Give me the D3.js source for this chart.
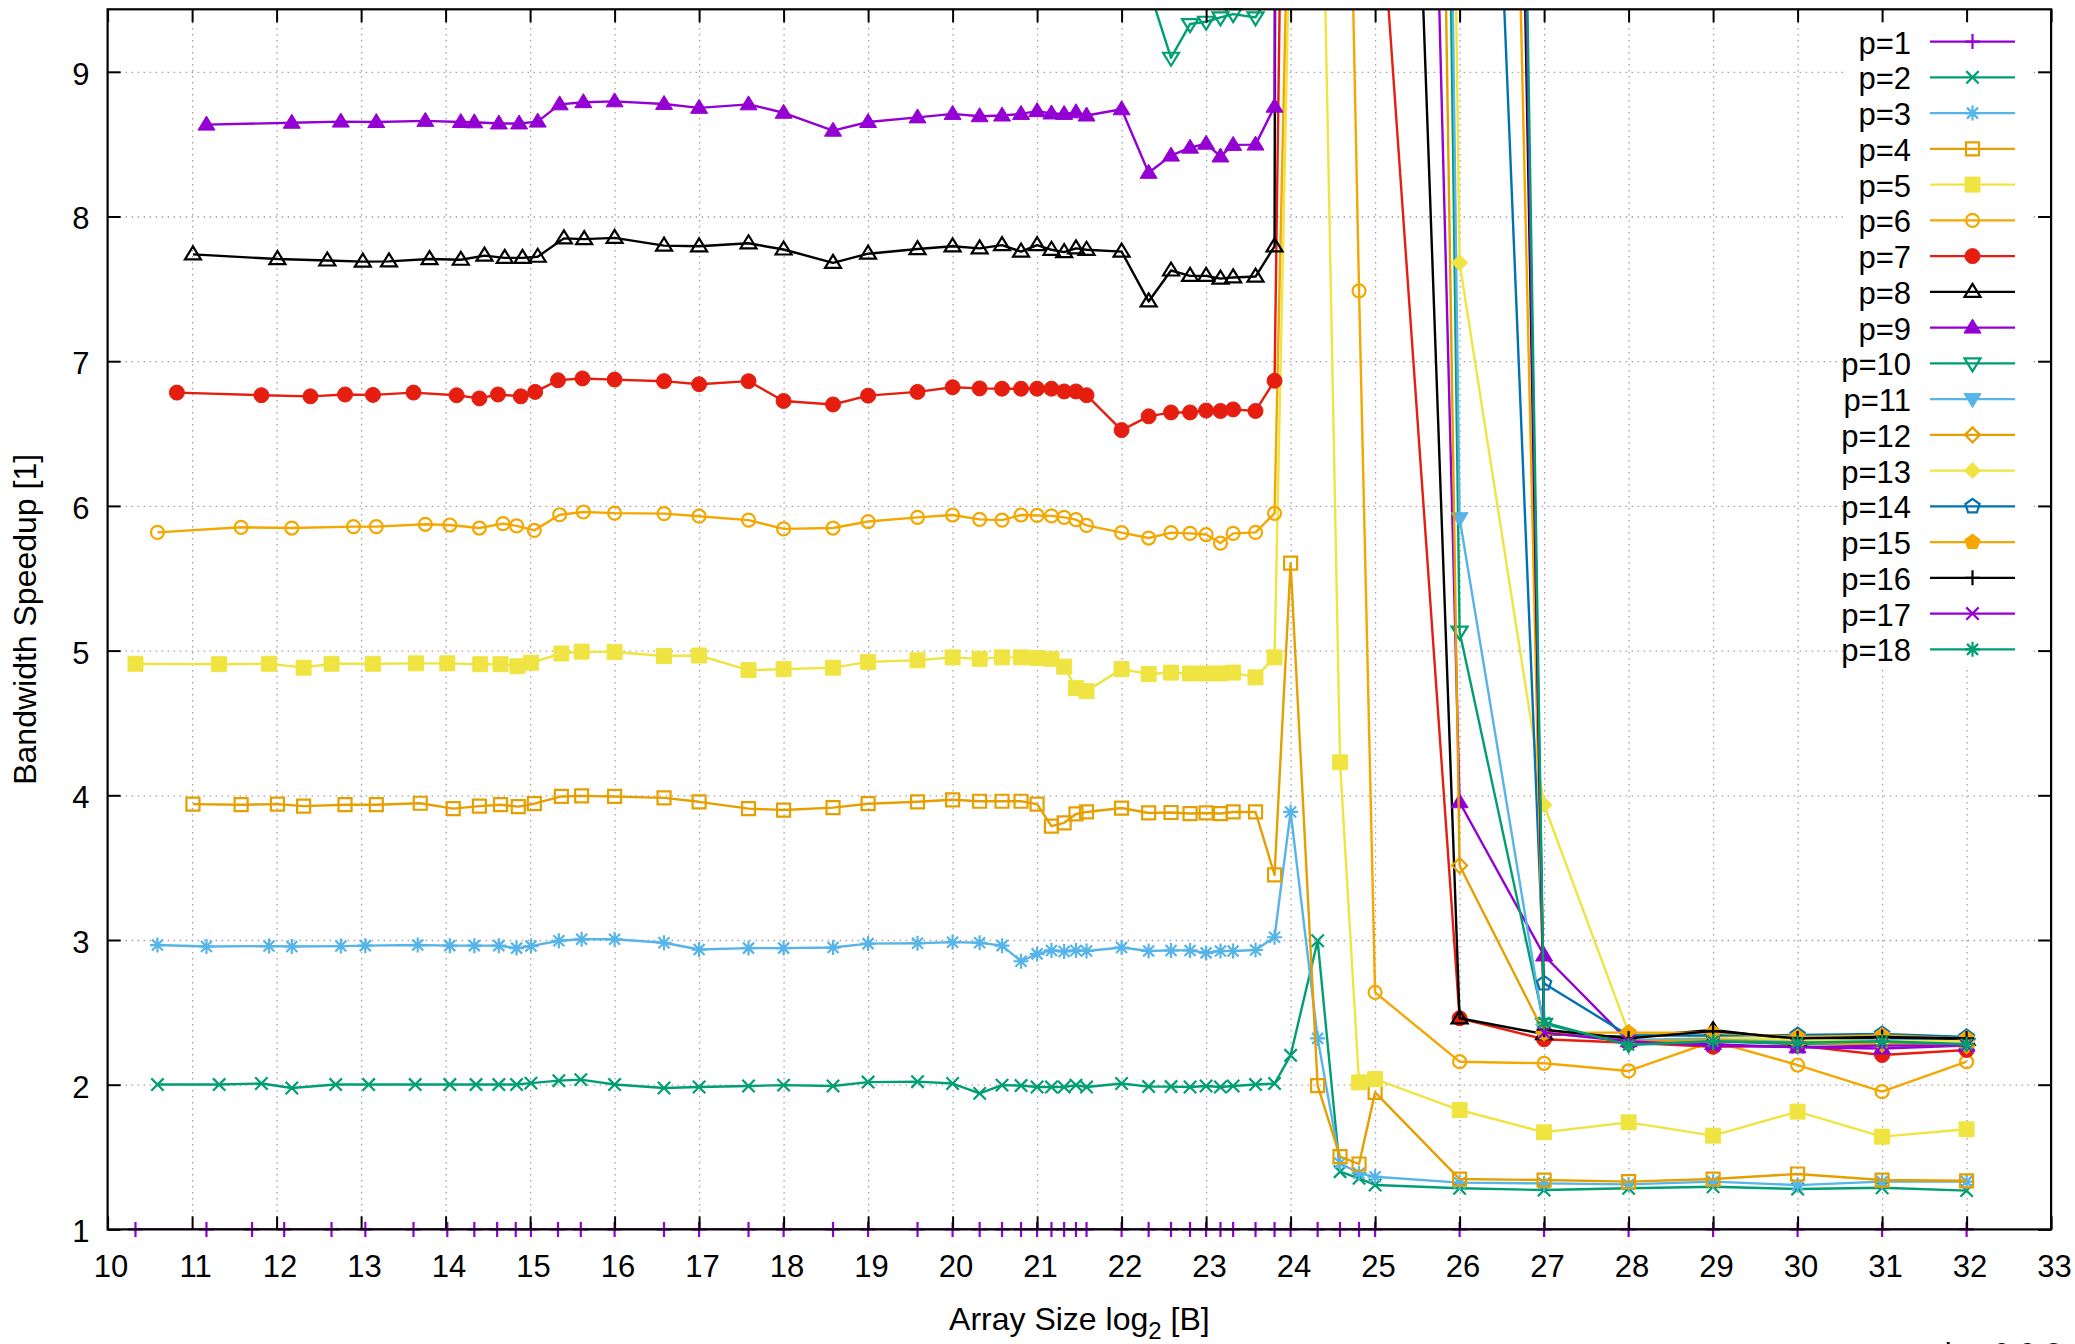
<!DOCTYPE html>
<html><head><meta charset="utf-8">
<script src="https://cdn.jsdelivr.net/npm/d3@7"></script>
<style>
html,body{margin:0;padding:0;background:#fff;}
svg{display:block;}
text{font-family:"Liberation Sans",Arial,sans-serif;fill:#000;}
</style></head><body>
<svg id="chart" width="2075" height="1344"></svg>
<script>
// ---------------- data ----------------
const seriesNames = ["p=1","p=2","p=3","p=4","p=5","p=6","p=7","p=8","p=9","p=10","p=11","p=12","p=13","p=14","p=15","p=16","p=17","p=18"];
const seriesColors = ["#9400d3","#009e73","#56b4e9","#e69f00","#f0e442","#f4a700","#e51e10","#000000","#9400d3","#009e73","#56b4e9","#e69f00","#f0e442","#0072b2","#f4a700","#000000","#9400d3","#009e73"];
const seriesPointTypes = [1,2,3,4,5,6,7,8,9,10,11,12,13,14,15,1,2,3];

const xTicks = [10,11,12,13,14,15,16,17,18,19,20,21,22,23,24,25,26,27,28,29,30,31,32,33];
const yTicks = [1,2,3,4,5,6,7,8,9];

// shared array sizes (log2) from 16 upward
const xTail = [16,16.585,17,17.585,18,18.585,19,19.585,20,20.32,20.585,20.81,21,21.17,21.32,21.46,21.585,22,22.32,22.585,22.81,23,23.17,23.32,23.585,23.81,24,24.32,24.585,24.81,25,26,27,28,29,30,31,32];

const xHead_p1 = [10.33,11.17,11.71,12.09,12.65,13.05,13.62,14.02,14.34,14.61,14.83,15.01,15.33,15.60];
const xHead_p2 = [10.59,11.32,11.82,12.18,12.70,13.09,13.64,14.05,14.36,14.63,14.84,15.01,15.34,15.60];
const xHead_p3 = [10.59,11.17,11.91,12.18,12.76,13.05,13.67,14.05,14.34,14.63,14.84,15.01,15.34,15.61];
const xHead_p4 = [11.01,11.58,12.01,12.32,12.81,13.18,13.70,14.09,14.40,14.65,14.86,15.05,15.37,15.61];
const xHead_p5 = [10.33,11.32,11.91,12.32,12.65,13.14,13.65,14.02,14.41,14.65,14.85,15.01,15.37,15.61];
const xHead_p6 = [10.59,11.58,12.18,12.91,13.18,13.76,14.05,14.40,14.68,14.84,15.05,15.35,15.63];
const xHead_p7 = [10.82,11.82,12.40,12.81,13.14,13.62,14.13,14.40,14.62,14.89,15.06,15.33,15.62];
const xHead_p8 = [11.01,12.01,12.60,13.02,13.33,13.81,14.18,14.46,14.70,14.91,15.09,15.40,15.64];
const xHead_p9 = [11.17,12.18,12.76,13.18,13.76,14.18,14.34,14.63,14.87,15.09,15.35,15.63];

const y_p1 = [1,1,1,1,1,1,1,1,1,1,1,1,1,1,
  1,1,1,1,1,1,1,1,1,1,1,1,1,1,1,1,1,1,1,1,1,1,1,1,1,1,1,1,1,1,1,1,1,1,1,1,1,1];
const y_p2 = [2.001,2.001,2.008,1.977,2.001,2.001,2.001,2.001,2.001,2.001,2.001,2.011,2.028,2.035,
  2.001,1.977,1.984,1.991,1.997,1.991,2.018,2.021,2.008,1.940,1.997,1.994,1.984,1.984,1.984,1.997,1.984,2.008,1.987,1.987,1.984,1.991,1.984,1.991,2.001,2.008,2.203,2.995,1.399,1.353,1.307,1.284,1.272,1.284,1.295,1.279,1.288,1.268];
const y_p3 = [2.965,2.955,2.958,2.955,2.958,2.961,2.965,2.961,2.961,2.961,2.944,2.958,2.995,3.005,
  3.005,2.981,2.934,2.944,2.944,2.948,2.975,2.978,2.985,2.981,2.961,2.853,2.904,2.928,2.921,2.928,2.924,2.948,2.924,2.928,2.928,2.911,2.924,2.924,2.931,3.019,3.885,2.320,1.457,1.388,1.364,1.323,1.318,1.311,1.330,1.306,1.330,1.330];
const y_p4 = [3.939,3.935,3.939,3.925,3.935,3.935,3.945,3.908,3.925,3.935,3.922,3.942,3.992,3.996,
  3.992,3.982,3.955,3.908,3.898,3.915,3.942,3.955,3.969,3.959,3.959,3.959,3.939,3.787,3.810,3.871,3.885,3.912,3.878,3.881,3.874,3.878,3.874,3.885,3.885,3.450,5.604,1.993,1.503,1.452,1.947,1.348,1.341,1.330,1.348,1.383,1.341,1.336];
const y_p5 = [4.909,4.906,4.909,4.882,4.909,4.909,4.912,4.912,4.906,4.906,4.892,4.916,4.980,4.993,
  4.990,4.963,4.966,4.865,4.872,4.882,4.922,4.933,4.953,4.943,4.953,4.953,4.949,4.943,4.889,4.741,4.720,4.872,4.838,4.848,4.842,4.842,4.842,4.848,4.815,4.953,10.3,12.2,4.228,2.016,2.039,1.825,1.671,1.740,1.648,1.814,1.641,1.692];
const y_p6 = [5.817,5.852,5.847,5.857,5.857,5.873,5.868,5.847,5.878,5.862,5.831,5.939,5.958,
  5.950,5.947,5.929,5.902,5.841,5.847,5.892,5.921,5.937,5.907,5.902,5.937,5.934,5.931,5.921,5.905,5.865,5.815,5.778,5.815,5.810,5.802,5.743,5.810,5.817,5.949,11.0,16.0,13.9,7.486,2.638,2.159,2.148,2.095,2.300,2.136,1.952,2.159];
const y_p7 = [6.783,6.765,6.757,6.770,6.767,6.783,6.765,6.743,6.770,6.757,6.788,6.868,6.881,
  6.873,6.862,6.841,6.862,6.725,6.701,6.762,6.788,6.820,6.812,6.810,6.810,6.810,6.810,6.791,6.791,6.765,6.524,6.619,6.646,6.646,6.659,6.656,6.667,6.656,6.865,15.0,19.0,18.0,14.0,10.76,2.459,2.314,2.290,2.262,2.270,2.205,2.240];
const y_p8 = [7.738,7.706,7.696,7.688,7.690,7.706,7.701,7.730,7.714,7.714,7.722,7.849,7.844,
  7.852,7.799,7.794,7.815,7.772,7.680,7.743,7.775,7.794,7.780,7.802,7.757,7.802,7.770,7.754,7.780,7.770,7.757,7.413,7.627,7.590,7.590,7.571,7.579,7.585,7.794,60,62,55,40,18.7,2.459,2.350,2.330,2.378,2.310,2.320,2.310];
const y_p9 = [8.635,8.648,8.656,8.653,8.661,8.653,8.651,8.643,8.643,8.656,8.775,8.790,
  8.796,8.778,8.751,8.775,8.717,8.593,8.653,8.685,8.709,8.693,8.698,8.709,8.728,8.712,8.709,8.720,8.698,8.741,8.302,8.421,8.476,8.503,8.415,8.495,8.497,8.759,60,65,58,45,26.8,3.952,2.893,2.300,2.280,2.258,2.250,2.270];
// larger thread counts (from 22 / 24.81 upward; earlier sizes lie above the plotted range)
const y_p10 = [9.75,9.58,9.097,9.330,9.346,9.376,9.399,9.376,9.60,55,60,58,52,48,5.131,2.420,2.280,2.300,2.280,2.290,2.280];
const y_p11 = [58,49.8,5.915,2.380,2.310,2.320,2.300,2.310,2.300];
const y_p12 = [50,40.5,3.515,2.360,2.300,2.310,2.290,2.280,2.270];
const y_p13 = [60,51,7.680,3.933,2.360,2.330,2.310,2.300,2.300];
const y_p14 = [60,45,17.0,2.700,2.340,2.340,2.343,2.350,2.330];
const y_p15 = [60,45,28,2.360,2.360,2.360,2.330,2.340,2.320];
const y_p16 = [60,45,34,2.380,2.320,2.370,2.320,2.330,2.320];
const y_p17 = [60,45,36,2.360,2.300,2.270,2.260,2.270,2.270];
const y_p18 = [60,45,38,2.430,2.274,2.300,2.290,2.300,2.280];

const seriesX = [
  xHead_p1.concat(xTail), xHead_p2.concat(xTail), xHead_p3.concat(xTail), xHead_p4.concat(xTail),
  xHead_p5.concat(xTail), xHead_p6.concat(xTail), xHead_p7.concat(xTail), xHead_p8.concat(xTail),
  xHead_p9.concat(xTail), xTail.slice(17),
  xTail.slice(29), xTail.slice(29), xTail.slice(29), xTail.slice(29),
  xTail.slice(29), xTail.slice(29), xTail.slice(29), xTail.slice(29)
];
const seriesY = [y_p1,y_p2,y_p3,y_p4,y_p5,y_p6,y_p7,y_p8,y_p9,y_p10,y_p11,y_p12,y_p13,y_p14,y_p15,y_p16,y_p17,y_p18];

// ---------------- layout ----------------
const W = 2075, H = 1344;
const P = {left:107.6, right:2051.1, top:9.3, bottom:1229.4};
const yMax = 9.432;
const x = d3.scaleLinear().domain([10,33]).range([P.left,P.right]);
const y = d3.scaleLinear().domain([1,yMax]).range([P.bottom,P.top]);

const svg = d3.select("#chart");
svg.append("rect").attr("width",W).attr("height",H).attr("fill","#fff");
svg.append("clipPath").attr("id","clip").append("rect")
  .attr("x",P.left).attr("y",P.top).attr("width",P.right-P.left).attr("height",P.bottom-P.top);

// grid
const gridStyle = sel => {
  sel.select(".domain").remove();
  sel.selectAll(".tick text").remove();
  sel.selectAll(".tick line").attr("stroke","#a0a0a0").attr("stroke-width",1.3).attr("stroke-dasharray","1.5,4.5");
};
svg.append("g").attr("transform",`translate(0,${P.bottom})`)
  .call(d3.axisBottom(x).tickValues(xTicks.filter(v=>v>10&&v<33)).tickSize(-(P.bottom-P.top)))
  .call(gridStyle);
svg.append("g").attr("transform",`translate(${P.left},0)`)
  .call(d3.axisLeft(y).tickValues(yTicks.filter(v=>v>1)).tickSize(-(P.right-P.left)))
  .call(gridStyle);

// marker shapes (gnuplot point types)
function pentagon(r){
  const pts=[];
  for(let k=0;k<5;k++){const a=-Math.PI/2+k*2*Math.PI/5; pts.push([r*Math.cos(a),r*Math.sin(a)]);}
  return "M"+pts.map(p=>p[0].toFixed(2)+","+p[1].toFixed(2)).join("L")+"Z";
}
const circ = r => `M${-r},0A${r},${r} 0 1,0 ${r},0A${r},${r} 0 1,0 ${-r},0Z`;
const markerDefs = {
  1:{d:"M-7.5,0H7.5M0,-7.5V7.5",fill:false},
  2:{d:"M-6.2,-6.2L6.2,6.2M-6.2,6.2L6.2,-6.2",fill:false},
  3:{d:"M-7.5,0H7.5M0,-7.5V7.5M-5.5,-5.5L5.5,5.5M-5.5,5.5L5.5,-5.5",fill:false},
  4:{d:"M-6.5,-6.5H6.5V6.5H-6.5Z",fill:false},
  5:{d:"M-7.5,-7.5H7.5V7.5H-7.5Z",fill:true},
  6:{d:circ(6.5),fill:false},
  7:{d:circ(7.5),fill:true},
  8:{d:"M0,-8L8,5L-8,5Z",fill:false},
  9:{d:"M0,-8.5L8.5,5.5L-8.5,5.5Z",fill:true},
  10:{d:"M0,8L8,-5L-8,-5Z",fill:false},
  11:{d:"M0,8.5L8.5,-5.5L-8.5,-5.5Z",fill:true},
  12:{d:"M0,-7.5L7.5,0L0,7.5L-7.5,0Z",fill:false},
  13:{d:"M0,-8L8,0L0,8L-8,0Z",fill:true},
  14:{d:pentagon(7.5),fill:false},
  15:{d:pentagon(8),fill:true}
};
function drawMarker(g, pt, cx, cy, color){
  const m = markerDefs[pt];
  g.append("path").attr("d",m.d).attr("transform",`translate(${cx},${cy})`)
    .attr("fill", m.fill ? color : "none").attr("stroke",color).attr("stroke-width", m.fill?1:2.2)
    .attr("stroke-linejoin","miter");
}

// series
const line = d3.line().x(d=>x(d[0])).y(d=>y(d[1]));
const gData = svg.append("g");
seriesNames.forEach((name,i)=>{
  const pts = seriesX[i].map((xv,j)=>[xv, seriesY[i][j]]);
  const g = gData.append("g");
  g.append("path").attr("d",line(pts)).attr("fill","none").attr("stroke",seriesColors[i])
    .attr("stroke-width",2.4).attr("stroke-linejoin","round").attr("clip-path","url(#clip)");
  pts.filter(p=>p[1]>=1 && p[1]<=yMax).forEach(p=>drawMarker(g, seriesPointTypes[i], x(p[0]), y(p[1]), seriesColors[i]));
});

// key (opaque)
svg.append("rect").attr("x",1843).attr("y",18).attr("width",188).attr("height",650).attr("fill","#fff");
const gKey = svg.append("g");
seriesNames.forEach((name,i)=>{
  const ry = 41.6 + i*35.75;
  gKey.append("text").attr("x",1911).attr("y",ry).attr("dy","0.39em").attr("text-anchor","end")
    .attr("font-size",31).text(name);
  gKey.append("line").attr("x1",1930).attr("x2",2015).attr("y1",ry).attr("y2",ry)
    .attr("stroke",seriesColors[i]).attr("stroke-width",2.4);
  drawMarker(gKey, seriesPointTypes[i], 1972.5, ry, seriesColors[i]);
});

// axes ticks
const tickStyle = sel => {
  sel.select(".domain").remove();
  sel.selectAll(".tick line").attr("stroke","#000").attr("stroke-width",2);
  sel.selectAll(".tick text").attr("font-size",31).attr("font-family","Liberation Sans, Arial, sans-serif").attr("fill","#000");
};
svg.append("g").attr("transform",`translate(0,${P.bottom})`)
  .call(d3.axisBottom(x).tickValues(xTicks).tickSize(-13).tickPadding(26).tickFormat(d3.format("d")))
  .call(tickStyle).call(g=>g.selectAll(".tick text").attr("dx",3));
svg.append("g").attr("transform",`translate(0,${P.top})`)
  .call(d3.axisTop(x).tickValues(xTicks).tickSize(-13).tickFormat(""))
  .call(tickStyle);
svg.append("g").attr("transform",`translate(${P.left},0)`)
  .call(d3.axisLeft(y).tickValues(yTicks).tickSize(-13).tickPadding(18).tickFormat(d3.format("d")))
  .call(tickStyle).call(g=>g.selectAll(".tick text").attr("dy","0.4em"));
svg.append("g").attr("transform",`translate(${P.right},0)`)
  .call(d3.axisRight(y).tickValues(yTicks).tickSize(-13).tickFormat(""))
  .call(tickStyle);

// border
svg.append("rect").attr("x",P.left).attr("y",P.top).attr("width",P.right-P.left).attr("height",P.bottom-P.top)
  .attr("fill","none").attr("stroke","#000").attr("stroke-width",2.2);

// axis labels
svg.append("text").attr("transform",`translate(36,${(P.top+P.bottom)/2}) rotate(-90)`)
  .attr("text-anchor","middle").attr("font-size",32).text("Bandwidth Speedup [1]");
const xl = svg.append("text").attr("x",(P.left+P.right)/2).attr("y",1330).attr("text-anchor","middle").attr("font-size",32);
xl.append("tspan").text("Array Size log");
xl.append("tspan").attr("font-size",24).attr("dy",9).text("2");
xl.append("tspan").attr("dy",-9).text(" [B]");

// footer text at bottom right, only its top edge falls inside the picture (as in the reference)
svg.append("text").attr("x",2062).attr("y",1365).attr("text-anchor","end").attr("font-size",31).text("lav 0.9.2");
</script>
</body></html>
